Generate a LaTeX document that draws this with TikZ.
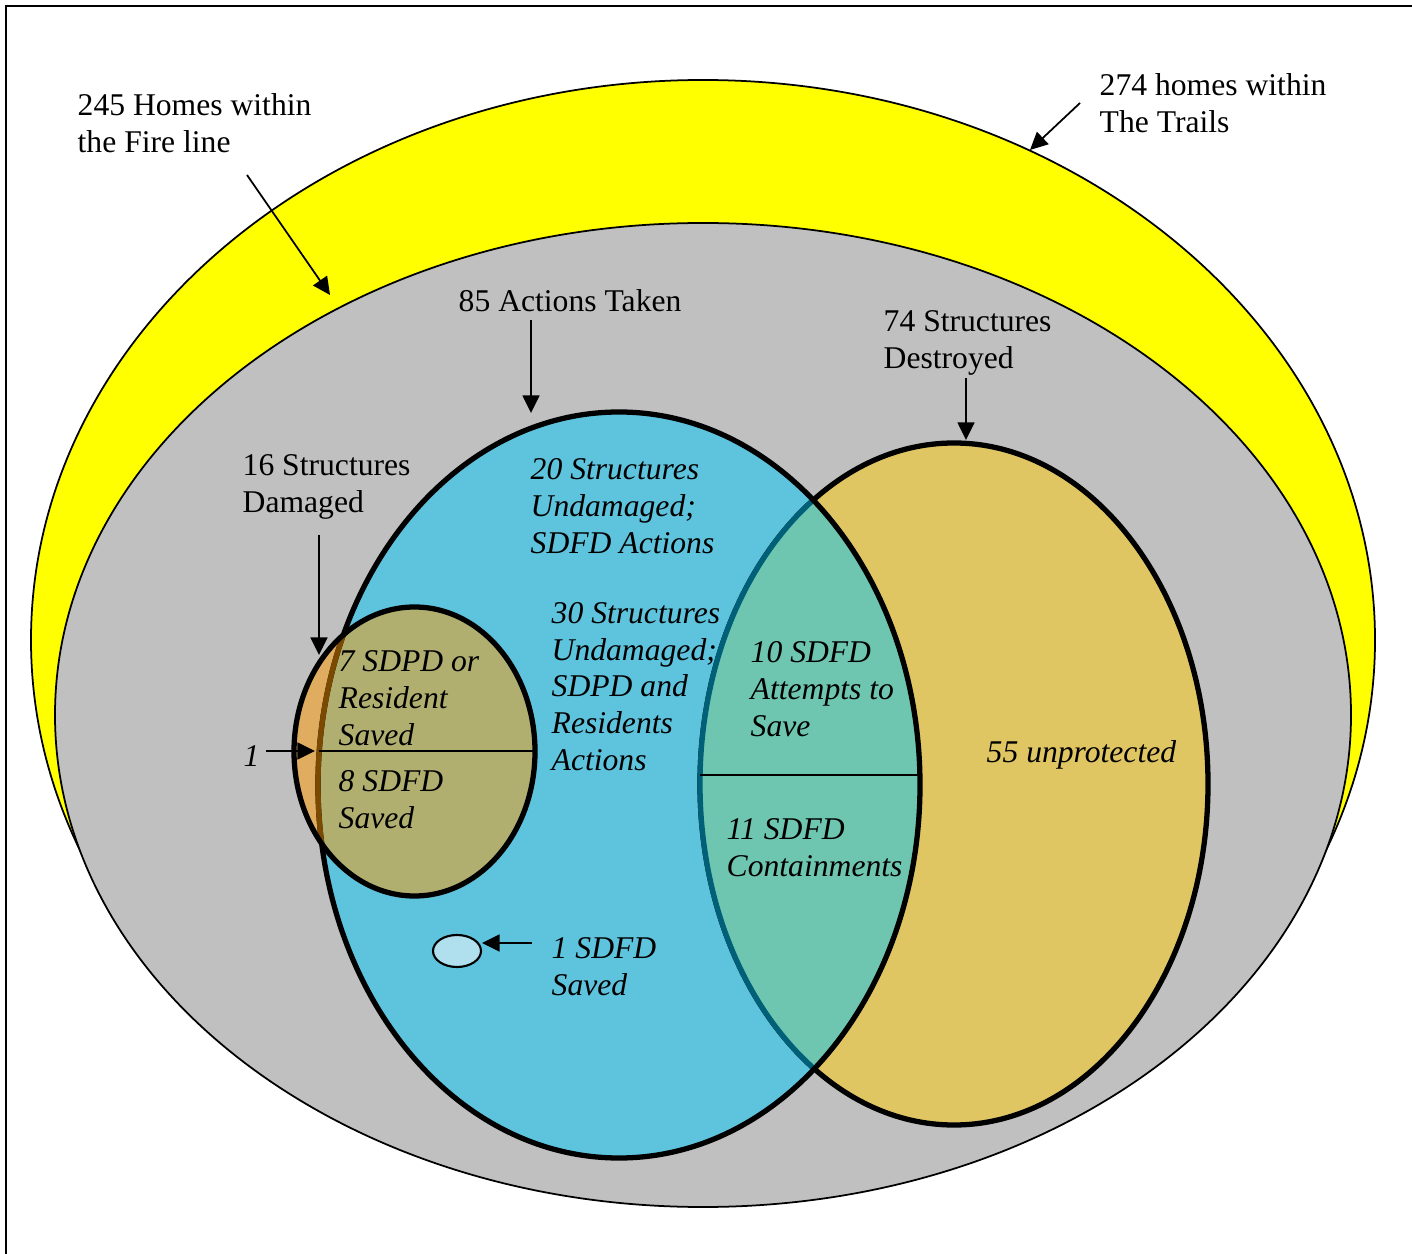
\documentclass[tikz,border=0pt]{standalone}
\usepackage{fontspec}
\setmainfont{Liberation Serif}
\usetikzlibrary{arrows.meta}

\definecolor{trailsyellow}{HTML}{FFFF00}
\definecolor{firegrey}{HTML}{C0C0C0}
\definecolor{actionblue}{HTML}{5EC4DE}
\definecolor{destroyedgold}{HTML}{DFC663}
\definecolor{lensteal}{HTML}{6EC6B0}
\definecolor{lensedge}{HTML}{006078}
\definecolor{damagedolive}{HTML}{B0AF70}
\definecolor{damagedorange}{HTML}{E0AC60}
\definecolor{damagededge}{HTML}{7B4A00}
\definecolor{savedblue}{HTML}{B0E0EE}

\newcommand{\actionset}{(6.19, -7.85) ellipse [x radius = 3.01, y radius = 3.73]}
\newcommand{\destroyset}{(9.54, -7.84) ellipse [x radius = 2.54, y radius = 3.41]}
\newcommand{\damageset}{(4.145, -7.515) ellipse [x radius = 1.205, y radius = 1.445]}

\tikzset{
    label/.style = {anchor = west, align = left, inner sep = 0pt,
        font = \fontsize{9}{10.5}\selectfont},
    ilabel/.style = {label, font = \fontsize{9}{10.5}\selectfont\itshape},
    pointer/.style = {-{Triangle[length = 5pt, width = 4.8pt]}, line width = 0.5pt},
    setline/.style = {line width = 1.5pt}
}

\begin{document}
\begin{tikzpicture}
    \useasboundingbox (0, 0) rectangle (14.12, - 12.54);
    \draw[line width = 0.6pt] (0.06, - 0.06) rectangle (14.6, - 13);

    % outer sets
    \draw[fill = trailsyellow, line width = 0.5pt] (7.03, - 6.40) ellipse [x radius = 6.72, y radius = 5.60];
    \draw[fill = firegrey, line width = 0.5pt] (7.03, - 7.15) ellipse [x radius = 6.48, y radius = 4.92];

    % actions and destroyed
    \fill[actionblue] \actionset;
    \fill[destroyedgold] \destroyset;
    \draw[setline] \destroyset;
    \begin{scope}
        \clip \actionset;
        \fill[lensteal] \destroyset;
        \draw[setline, lensedge] \destroyset;
    \end{scope}

    % damaged
    \fill[damagedorange] \damageset;
    \begin{scope}
        \clip \actionset;
        \fill[damagedolive] \damageset;
    \end{scope}
    \draw[setline] \actionset;
    \begin{scope}
        \clip \damageset;
        \draw[setline, damagededge] \actionset;
    \end{scope}
    \draw[setline] \damageset;

    \draw[line width = 0.5pt] (3.19, - 7.51) -- (5.34, - 7.51);
    \draw[line width = 0.5pt] (7.00, - 7.75) -- (9.20, - 7.75);
    \draw[fill = savedblue, line width = 0.6pt] (4.57, - 9.51) ellipse [x radius = 0.24, y radius = 0.16];

    % labels
    \node[label] (fire) at (0.77, - 1.235) {245 Homes within \\ the Fire line};
    \node[label] (trails) at (10.99, - 1.035) {274 homes within \\ The Trails};
    \node[label] (taken) at (4.58, - 3.01) {85 Actions Taken};
    \node[label] (destroyed) at (8.83, - 3.425) {74 Structures \\ Destroyed};
    \node[label] (damaged) at (2.42, - 4.865) {16 Structures \\ Damaged};

    \node[ilabel] (sdfdact) at (5.30, - 5.06) {20 Structures \\ Undamaged; \\ SDFD Actions};
    \node[ilabel] (sdpdact) at (5.51, - 6.866) {30 Structures \\ Undamaged; \\ SDPD and \\ Residents \\ Actions};
    \node[ilabel] (sdpdsaved) at (3.38, - 6.98) {7 SDPD or \\ Resident \\ Saved};
    \node[ilabel] (sdfdsaved) at (3.38, - 7.995) {8 SDFD \\ Saved};
    \node[ilabel] (attempts) at (7.50, - 6.893) {10 SDFD \\ Attempts to \\ Save};
    \node[ilabel] (contain) at (7.26, - 8.475) {11 SDFD \\ Containments};
    \node[ilabel] (unprot) at (9.86, - 7.55) {55 unprotected};
    \node[ilabel] (onesaved) at (5.51, - 9.67) {1 SDFD \\ Saved};
    \node[ilabel] (one) at (2.43, - 7.56) {1};

    % pointers
    \coordinate (fireTail) at (2.47, - 1.75);
    \coordinate (fireTip) at (3.30, - 2.95);
    \coordinate (trailsTail) at (10.80, - 1.03);
    \coordinate (trailsTip) at (10.30, - 1.50);
    \coordinate (takenTail) at (5.31, - 3.20);
    \coordinate (takenTip) at (5.31, - 4.13);
    \coordinate (destroyedTail) at (9.66, - 3.78);
    \coordinate (destroyedTip) at (9.66, - 4.40);
    \coordinate (damagedTail) at (3.19, - 5.35);
    \coordinate (damagedTip) at (3.19, - 6.55);
    \coordinate (oneTail) at (2.66, - 7.51);
    \coordinate (oneTip) at (3.15, - 7.51);
    \coordinate (savedTail) at (5.32, - 9.43);
    \coordinate (savedTip) at (4.82, - 9.43);

    \draw[pointer] (fireTail) -- (fireTip);
    \draw[pointer] (trailsTail) -- (trailsTip);
    \draw[pointer] (takenTail) -- (takenTip);
    \draw[pointer] (destroyedTail) -- (destroyedTip);
    \draw[pointer] (damagedTail) -- (damagedTip);
    \draw[pointer] (oneTail) -- (oneTip);
    \draw[pointer] (savedTail) -- (savedTip);
\end{tikzpicture}
\end{document}
